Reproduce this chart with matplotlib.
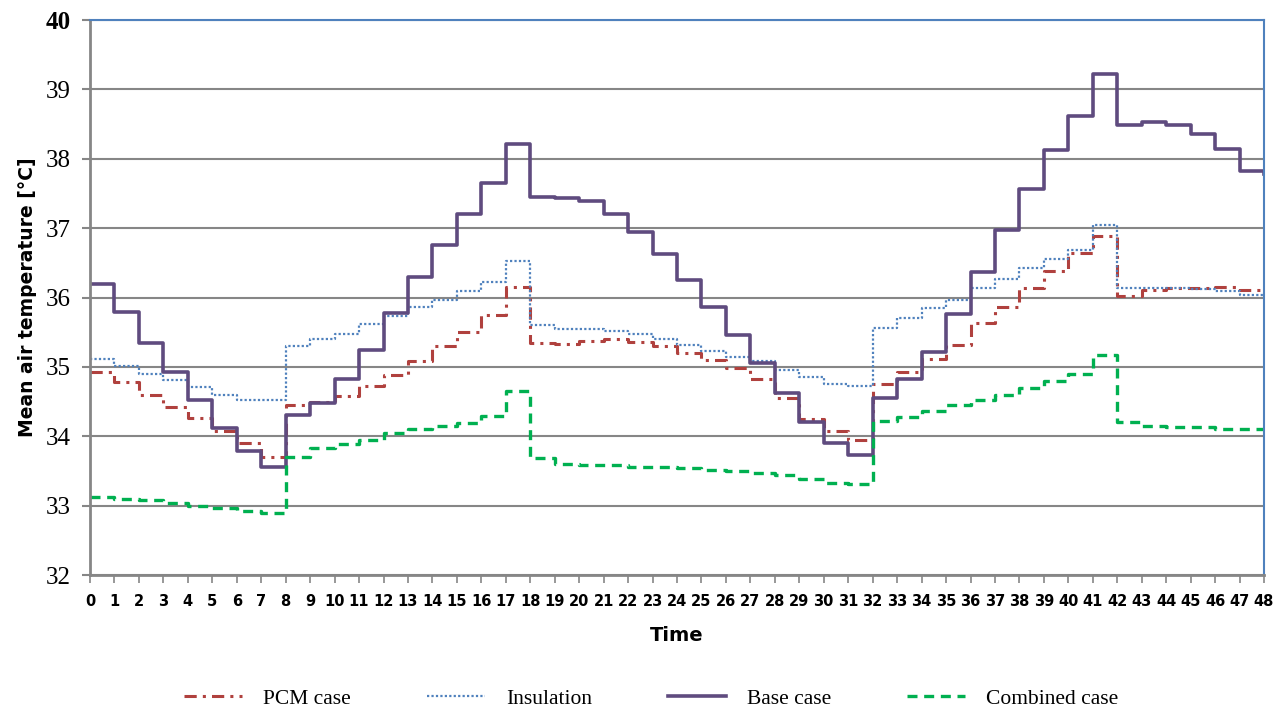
import numpy as np
import matplotlib.pyplot as plt

hours = list(range(0, 49))

pcm = [34.92, 34.78, 34.60, 34.42, 34.26, 34.08, 33.90, 33.70, 34.45, 34.50,
       34.58, 34.72, 34.88, 35.08, 35.30, 35.50, 35.75, 36.15, 35.35, 35.33,
       35.38, 35.40, 35.36, 35.30, 35.20, 35.10, 34.98, 34.83, 34.55, 34.25,
       34.08, 33.95, 34.76, 34.92, 35.12, 35.31, 35.63, 35.86, 36.14, 36.38,
       36.64, 36.88, 36.02, 36.11, 36.13, 36.14, 36.15, 36.11, 36.06]

insulation = [35.12, 35.01, 34.90, 34.81, 34.71, 34.60, 34.52, 34.52, 35.30, 35.40,
              35.48, 35.62, 35.74, 35.87, 35.97, 36.10, 36.22, 36.53, 35.60, 35.55,
              35.54, 35.52, 35.47, 35.40, 35.32, 35.23, 35.14, 35.09, 34.95, 34.85,
              34.76, 34.72, 35.56, 35.70, 35.85, 35.97, 36.13, 36.27, 36.43, 36.55,
              36.69, 37.04, 36.14, 36.14, 36.13, 36.12, 36.09, 36.04, 36.03]

base = [36.20, 35.79, 35.35, 34.93, 34.52, 34.12, 33.79, 33.56, 34.31, 34.48,
        34.82, 35.25, 35.78, 36.29, 36.76, 37.20, 37.65, 38.21, 37.45, 37.44,
        37.39, 37.20, 36.94, 36.62, 36.25, 35.86, 35.46, 35.06, 34.63, 34.21,
        33.90, 33.73, 34.55, 34.82, 35.22, 35.76, 36.37, 36.97, 37.56, 38.13,
        38.62, 39.22, 38.48, 38.53, 38.49, 38.36, 38.14, 37.83, 37.78]

combined = [33.12, 33.10, 33.08, 33.04, 33.00, 32.96, 32.92, 32.90, 33.70, 33.83,
            33.89, 33.95, 34.04, 34.10, 34.15, 34.19, 34.29, 34.65, 33.68, 33.60,
            33.59, 33.58, 33.56, 33.55, 33.54, 33.52, 33.50, 33.47, 33.44, 33.39,
            33.32, 33.31, 34.22, 34.28, 34.37, 34.45, 34.52, 34.60, 34.70, 34.79,
            34.90, 35.17, 34.20, 34.15, 34.14, 34.13, 34.11, 34.10, 34.10]

grey = '#868686'
blue = '#4F81BD'

fig = plt.figure(figsize=(12.87, 7.13), dpi=100)
ax = fig.add_axes([90/1287, 1-575/713, (1264-90)/1287, (575-20)/713])

ax.step(hours, pcm, where='post', color='#B0413E', lw=2.2,
        linestyle=(0, (4, 2, 1, 2)), label='PCM case')
ax.step(hours, insulation, where='post', color=blue, lw=1.6,
        linestyle=(0, (1, 1)), label='Insulation')
ax.step(hours, base, where='post', color='#5F4B7F', lw=2.6,
        label='Base case')
ax.step(hours, combined, where='post', color='#00B050', lw=2.4,
        linestyle=(0, (3, 2)), label='Combined case')

ax.set_xlim(0, 48)
ax.set_ylim(32, 40)
ax.set_xticks(hours)
ax.set_yticks(range(32, 41))
ax.grid(axis='y', color=grey, lw=1.5)
ax.set_axisbelow(True)

for s in ['left', 'bottom']:
    ax.spines[s].set_color(grey)
    ax.spines[s].set_linewidth(2)
for s in ['top', 'right']:
    ax.spines[s].set_color(blue)
    ax.spines[s].set_linewidth(1.5)

ax.tick_params(axis='y', direction='out', length=6, width=1.5, color=grey, pad=8,
               labelsize=18)
ax.tick_params(axis='x', direction='out', length=6, width=1.2, color=grey, pad=8,
               labelsize=10.5)
for t in ax.get_yticklabels():
    t.set_fontfamily('Liberation Serif')
ax.get_yticklabels()[-1].set_fontweight('bold')
for t in ax.get_xticklabels():
    t.set_fontweight('bold')

ax.set_xlabel('Time', fontsize=14, fontweight='bold', labelpad=12)
ax.set_ylabel('Mean air temperature [\u00b0C]', fontsize=13.5, fontweight='bold', labelpad=6)

fig.legend(loc='center', bbox_to_anchor=(0.506, 0.02), ncol=4, frameon=False,
           prop={'family': 'Liberation Serif', 'size': 15.5},
           handlelength=2.7, handletextpad=1.0, columnspacing=3.5)

fig.savefig('out.png', dpi=100)
